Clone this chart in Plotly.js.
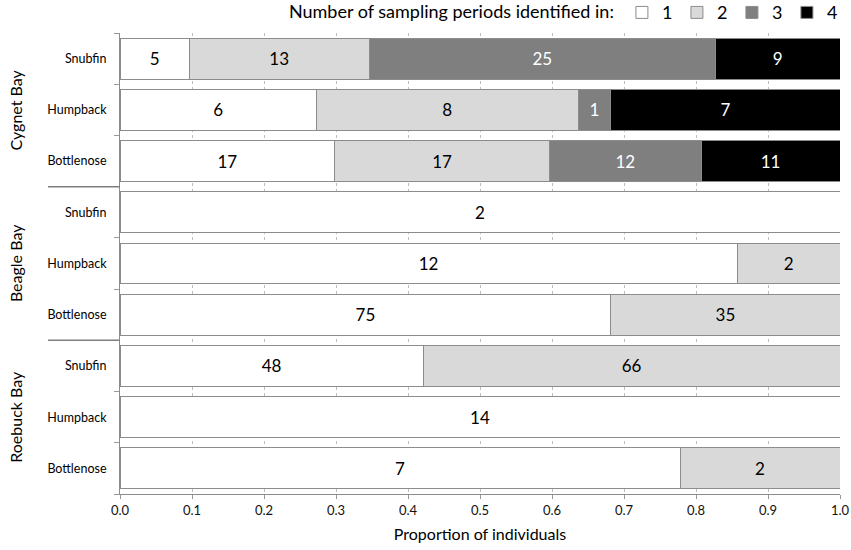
<!DOCTYPE html>
<html>
<head>
<meta charset="utf-8">
<script src="https://cdn.plot.ly/plotly-3.0.1.min.js"></script>
<style>
  html, body { margin: 0; padding: 0; background: #fff; }
  #plot { width: 851px; height: 550px; }
</style>
</head>
<body>
<div id="plot"></div>
<script>
// groups and rows (top to bottom)
var bays = ['Cygnet Bay', 'Beagle Bay', 'Roebuck Bay'];
var species = ['Snubfin', 'Humpback', 'Bottlenose'];
var periods = ['1', '2', '3', '4'];

// number of individuals identified in 1, 2, 3, 4 sampling periods
// order: Cygnet (Snub, Hump, Bottle), Beagle (...), Roebuck (...)
var counts1 = [5, 6, 17, 2, 12, 75, 48, 14, 7];
var counts2 = [13, 8, 17, 0, 2, 35, 66, 0, 2];
var counts3 = [25, 1, 12, 0, 0, 0, 0, 0, 0];
var counts4 = [9, 7, 11, 0, 0, 0, 0, 0, 0];

var allCounts = [counts1, counts2, counts3, counts4];
var fills = ['#ffffff', '#d9d9d9', '#7f7f7f', '#000000'];
var textCols = ['#000000', '#000000', '#ffffff', '#ffffff'];

var font = 'Lato, "Open Sans", sans-serif';

// row positions and labels
var rowPos = [];
var rowLabels = [];
for (var b = 0; b < bays.length; b++) {
    for (var s = 0; s < species.length; s++) {
        rowPos.push(b * species.length + s);
        rowLabels.push(species[s]);
    }
}

var traces = [];
for (var p = 0; p < periods.length; p++) {
    var c = allCounts[p];
    traces.push({
        type: 'bar',
        orientation: 'h',
        name: periods[p],
        y: rowPos,
        x: c.map(function (v) { return v ? v : null; }),
        text: c.map(function (v) { return v ? String(v) : ''; }),
        textposition: 'inside',
        insidetextanchor: 'middle',
        constraintext: 'none',
        textfont: {family: font, size: 17, color: textCols[p]},
        marker: {color: fills[p], line: {color: '#8c8c8c', width: 1}},
        hoverinfo: 'name+text'
    });
}

// bay labels and separators on the left
var annotations = [];
var shapes = [];
for (var b = 0; b < bays.length; b++) {
    annotations.push({
        xref: 'paper', yref: 'y',
        x: -0.145, xanchor: 'center', y: b * species.length + 1,
        text: bays[b], textangle: -90, showarrow: false,
        font: {family: font, size: 16, color: '#000'}
    });
    if (b > 0) {
        shapes.push({
            type: 'line', xref: 'paper', yref: 'y',
            x0: -0.1, x1: 0, y0: b * species.length - 0.5, y1: b * species.length - 0.5,
            line: {color: '#7f7f7f', width: 1.5}
        });
    }
}

var layout = {
    width: 851,
    height: 550,
    margin: {l: 120, r: 11, t: 33, b: 56, autoexpand: false},
    paper_bgcolor: '#fff',
    plot_bgcolor: '#fff',
    barmode: 'stack',
    barnorm: 'fraction',
    bargap: 0.2,
    font: {family: font, color: '#000'},
    showlegend: true,
    legend: {
        orientation: 'h',
        x: 1.004, xanchor: 'right',
        y: 1.044, yanchor: 'middle',
        title: {text: 'Number of sampling periods identified in:', side: 'left',
                font: {family: font, size: 18}},
        font: {family: font, size: 18},
        itemwidth: 30,
        entrywidth: 10,
        traceorder: 'normal',
        bgcolor: 'rgba(0,0,0,0)'
    },
    xaxis: {
        range: [0, 1],
        tickmode: 'linear', tick0: 0, dtick: 0.1,
        tickformat: '.1f',
        tickfont: {family: font, size: 13, color: '#111'},
        ticks: 'outside', ticklen: 4, tickcolor: '#999',
        showgrid: true, gridcolor: '#bdbdbd', griddash: 'dot', gridwidth: 1,
        zeroline: false,
        showline: true, linecolor: '#8c8c8c', linewidth: 1,
        title: {text: 'Proportion of individuals', font: {family: font, size: 16}, standoff: 12},
        fixedrange: true
    },
    yaxis: {
        range: [rowPos.length - 0.5, -0.5],
        tickmode: 'array',
        tickvals: rowPos,
        ticktext: rowLabels,
        tickfont: {family: font, size: 12.5, color: '#000'},
        ticks: '',
        ticklabelstandoff: 10,
        minor: {tickmode: 'linear', tick0: 0.5, dtick: 1, ticks: 'outside',
                ticklen: 5, tickcolor: '#999', showgrid: false},
        showgrid: false,
        zeroline: false,
        showline: true, linecolor: '#8c8c8c', linewidth: 1,
        fixedrange: true
    },
    annotations: annotations,
    shapes: shapes
};

Plotly.newPlot('plot', traces, layout, {displayModeBar: false, staticPlot: true});
</script>
</body>
</html>
